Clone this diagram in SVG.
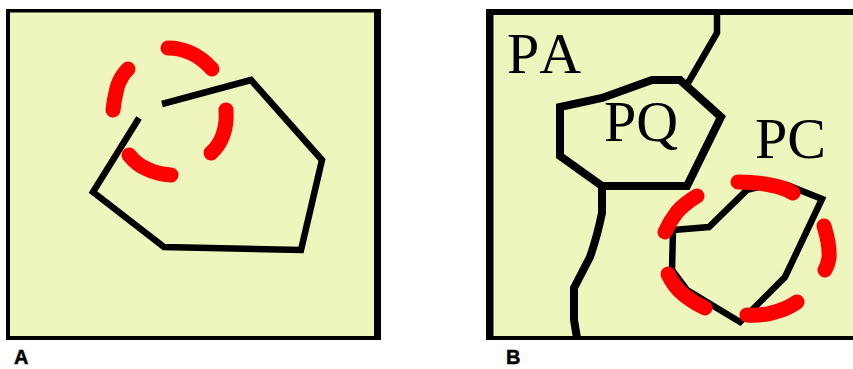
<svg xmlns="http://www.w3.org/2000/svg" width="853" height="369" viewBox="0 0 853 369">
<style>
.k{fill:none;stroke:#000;stroke-width:6.500;stroke-linejoin:miter;stroke-linecap:butt}
.q{stroke-width:8}
.r{fill:none;stroke:#f00;stroke-width:15;stroke-linecap:round;stroke-linejoin:round}
.t{font-family:"Liberation Serif",serif;font-size:58px;fill:#000;font-kerning:none}
.l{font-family:"Liberation Sans",sans-serif;font-weight:bold;font-size:20px;fill:#000;stroke:#000;stroke-width:.5}
</style>
<rect width="853" height="369" fill="#fff"/>
<g id="panel-a">
<rect x="8" y="11" width="370" height="327" fill="#eff6bd"/>
<path d="M6 9H381V340H6ZM10 12.500V336H374V12.500Z" fill="#000" fill-rule="evenodd"/>
<path class="k" d="M139 118L93 192L164 247L301 250L322 160L251 80L162 104" stroke-linecap="round"/>
<path class="r" d="M168 48Q180 48 191 53Q202 58 212 69"/>
<path class="r" d="M128 69Q120 77 117 88Q114 100 113 110"/>
<path class="r" d="M226 110Q227 124 223 135Q219 146 211 153"/>
<path class="r" d="M129 155Q137 165 147 169Q157 174 171 175"/>
<text class="l" x="14" y="364">A</text>
</g>
<g id="panel-b">
<rect x="488" y="11" width="365" height="327" fill="#eff6bd"/>
<path d="M486 9H853V15H493.500V336H853V340H486Z" fill="#000"/>
<g id="pq-outline">
<path class="k q" d="M602 98L652 80H680L721 117L687 186H602L560 156V107Z"/>
</g>
<path class="k" d="M717 14V33L688 83"/>
<path class="k q" d="M602 186V213Q597 237 590 257L574 288V320L577 338"/>
<path class="k" d="M673 230L709 227L747 190Q770 183 787 185L822 199L785 277L740 322L687 290L672 270Z"/>
<path class="r" d="M697 196Q685 203 677 212Q670 221 665 232"/>
<path class="r" d="M738 182Q756 182 770 185Q783 187 793 193"/>
<path class="r" d="M824 226Q830 245 829 258Q828 265 825 270"/>
<path class="r" d="M668 274Q674 287 684 295Q694 303 705 308"/>
<path class="r" d="M747 315Q762 316 775 312Q787 309 797 302"/>
<text class="t" x="507" y="73">PA</text>
<text class="t" x="604" y="141">PQ</text>
<text class="t" x="755" y="158">PC</text>
<text class="l" x="506" y="364">B</text>
</g>
</svg>
